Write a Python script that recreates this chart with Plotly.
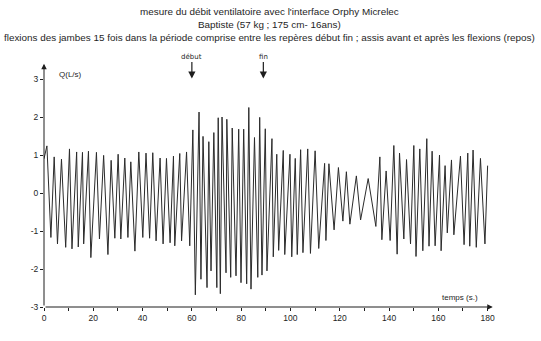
import plotly.graph_objects as go

# --- data ---
time_s = [0.0, 1.18, 2.80, 4.13, 5.47, 7.09, 8.80, 10.34, 11.35, 13.25, 13.90, 15.61, 16.10,
          18.04, 19.01, 21.28, 22.50, 24.20, 25.94, 27.24, 28.74, 30.08, 31.17, 32.79, 34.05,
          35.22, 36.89, 38.47, 40.09, 41.39, 42.85, 44.14, 45.48, 47.10, 48.32, 49.70, 51.16,
          52.53, 53.06, 55.09, 55.82, 57.84, 59.14, 60.40, 61.41, 62.91, 63.68, 64.53, 66.15,
          66.88, 67.77, 68.91, 70.13, 70.69, 71.55, 72.24, 73.86, 74.18, 75.76, 76.37, 77.91,
          79.00, 79.94, 81.03, 82.24, 83.10, 83.99, 85.41, 86.75, 87.52, 88.45, 89.79, 90.47,
          92.50, 93.03, 94.45, 95.22, 97.08, 97.69, 99.80, 100.53, 101.95, 102.76, 104.13,
          105.07, 107.01, 108.11, 110.01, 111.47, 113.86, 114.39, 115.61, 117.71, 119.46,
          121.28, 122.70, 124.12, 126.75, 128.46, 131.54, 134.66, 136.28, 137.09, 138.83,
          140.45, 141.95, 143.29, 144.26, 146.01, 147.10, 148.72, 150.06, 150.95, 152.49,
          153.71, 155.33, 156.22, 157.48, 158.70, 160.48, 161.13, 162.75, 163.64, 165.34,
          166.31, 168.99, 170.45, 171.95, 172.76, 174.10, 175.40, 177.10, 178.92, 180.00]
debit_Ls = [0.90, 1.24, -1.17, 0.95, -1.34, 0.89, -1.43, 1.16, -1.47, 1.08, -1.42, 1.07, -1.34,
            1.10, -1.70, 1.07, -1.21, 0.99, -1.62, 0.86, -1.19, 1.02, -1.21, 0.92, -1.17,
            0.82, -1.53, 1.08, -1.17, 1.05, -1.19, 1.06, -1.26, 0.92, -1.34, 0.91, -1.31,
            0.97, -1.39, 1.04, -1.26, 1.08, -1.39, 1.66, -2.68, 2.13, -2.27, 1.49, -2.49,
            1.35, -2.05, 1.59, -2.49, 1.98, -2.65, 2.00, -2.10, 1.94, -2.22, 1.71, -2.18,
            1.68, -2.36, 1.68, -2.39, 2.25, -2.53, 1.46, -2.22, 1.99, -2.16, 1.69, -2.05,
            1.43, -1.68, 1.02, -1.51, 1.12, -1.62, 1.02, -1.68, 0.91, -1.62, 1.14,
            -1.57, 1.16, -1.59, 1.11, -1.46, 0.78, -1.25, 0.77, -0.97, 0.67,
            -0.74, 0.56, -0.82, 0.45, -0.71, 0.38, -0.88, 0.95, -1.23, 0.58,
            -1.25, 1.25, -1.61, 1.05, -1.21, 0.88, -1.34, 1.25, -1.67, 1.16,
            -1.52, 1.43, -1.40, 1.10, -1.39, 1.00, -1.52, 0.72, -1.05, 0.87,
            -1.10, 0.97, -1.36, 1.05, -1.40, 1.13, -1.43, 0.91, -1.34, 0.72]

x_tick_vals = [0, 20, 40, 60, 80, 100, 120, 140, 160, 180]
x_tick_text = ["0", "20", "40", "60", "80", "100", "120", "140", "160", "180"]
y_tick_vals = [-3, -2, -1, 0, 1, 2, 3]
y_tick_text = ["-3", "-2", "-1", "0", "1", "2", "3"]

markers = [(60, "début"), (89, "fin")]

title_lines = [
    "mesure du débit ventilatoire avec l'interface Orphy Micrelec",
    "Baptiste (57 kg ; 175 cm- 16ans)",
    "flexions des jambes 15 fois dans la période comprise entre les repères début fin ; assis avant et après les flexions (repos)",
]

W, H = 541, 341
ML, MR, MT, MB = 43.8, 45.7, 60, 34.3
plot_h = H - MT - MB
FONT = "Liberation Sans, Arial, sans-serif"
MARK_FONT = "DejaVu Sans, sans-serif"
INK = "#1e1e1e"


def py_to_paper(py):
    return (H - MB - py) / plot_h


fig = go.Figure()
fig.add_trace(go.Scatter(x=time_s, y=debit_Ls, mode="lines",
                         line=dict(color="#2b2b2b", width=1), hoverinfo="skip",
                         showlegend=False))

annotations = []
# axis lines with arrowheads
annotations.append(dict(x=0, y=3.4, ax=0, ay=-3, xref="x", yref="y", axref="x", ayref="y",
                        text="", showarrow=True, arrowhead=2, arrowsize=1.1, arrowwidth=1,
                        arrowcolor=INK))
annotations.append(dict(x=182.1, y=-3, ax=0, ay=-3, xref="x", yref="y", axref="x", ayref="y",
                        text="", showarrow=True, arrowhead=2, arrowsize=1.1, arrowwidth=1,
                        arrowcolor=INK))
# axis titles
annotations.append(dict(x=5.3, y=3.13, xref="x", yref="y", text="Q(L/s)", showarrow=False,
                        xanchor="left", yanchor="middle", font=dict(family=FONT, size=8, color=INK)))
annotations.append(dict(x=168.6, y=-2.74, xref="x", yref="y", text="temps (s.)", showarrow=False,
                        xanchor="center", yanchor="middle", font=dict(family=FONT, size=8, color=INK)))
# début / fin markers
for t, label in markers:
    annotations.append(dict(x=t, y=3.01, xref="x", yref="y", text=label, showarrow=True,
                            ax=0, ay=-22, arrowhead=2, arrowsize=1.2, arrowwidth=1.2,
                            arrowcolor=INK, font=dict(family=MARK_FONT, size=7, color=INK)))
# title lines
for line, py in zip(title_lines, [11.5, 24.5, 37.5]):
    annotations.append(dict(x=270.0 / W, y=py_to_paper(py), xref="paper", yref="paper",
                            text=line, showarrow=False, xanchor="center", yanchor="middle",
                            font=dict(family=FONT, size=9.9, color=INK)))

fig.update_layout(
    width=W, height=H, autosize=False,
    margin=dict(l=ML, r=MR, t=MT, b=MB, pad=0),
    paper_bgcolor="white", plot_bgcolor="white",
    annotations=annotations,
    xaxis=dict(range=[0, 183], showgrid=False, zeroline=False, showline=False,
               tickmode="array", tickvals=x_tick_vals, ticktext=x_tick_text,
               ticks="outside", ticklen=3, tickwidth=1, tickcolor=INK,
               minor=dict(tickmode="linear", tick0=0, dtick=10, ticks="outside", ticklen=3,
                          tickwidth=1, tickcolor=INK, showgrid=False),
               tickfont=dict(family=FONT, size=8.5, color=INK), fixedrange=True),
    yaxis=dict(range=[-3, 3.5], showgrid=False, zeroline=False, showline=False,
               tickmode="array", tickvals=y_tick_vals, ticktext=y_tick_text,
               ticks="outside", ticklen=3, tickwidth=1, tickcolor=INK,
               tickfont=dict(family=FONT, size=8.5, color=INK), fixedrange=True),
)

fig.write_html("out.html")
